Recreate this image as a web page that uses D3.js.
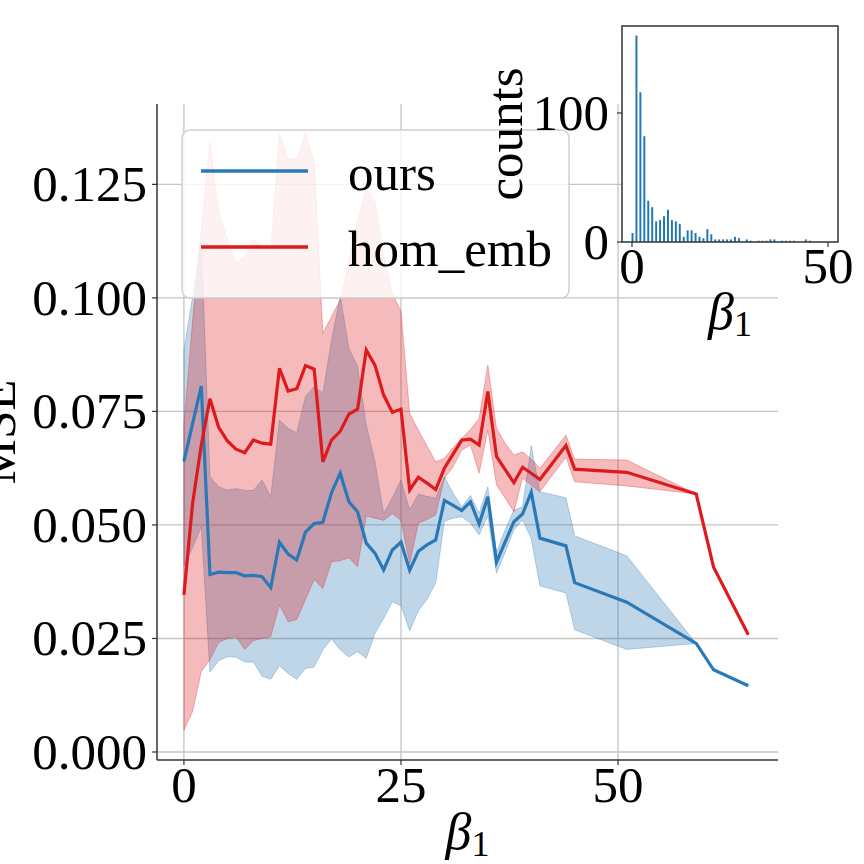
<!DOCTYPE html>
<html>
<head>
<meta charset="utf-8">
<script src="https://cdn.jsdelivr.net/npm/d3@7"></script>
<style>
  body { margin: 0; background: #fff; }
  svg text { font-family: "Liberation Serif", "Times New Roman", serif; fill: #000; }
</style>
</head>
<body>
<div id="chart"></div>
<script>
// beta_1 values along the x axis
const betaVals = [0,1,2,3,4,5,6,7,8,9,10,11,12,13,14,15,16,17,18,19,20,21,22,23,24,25,26,27,28,29,30,31,32,33,34,35,36,37,38,39,40,41,44,45,51,59,61,65];

// "ours" mean and band
const oursMean = [0.0640,0.0723,0.0806,0.0391,0.0396,0.0395,0.0395,0.0388,0.0389,0.0386,0.0362,0.0462,0.0436,0.0423,0.0484,0.0503,0.0506,0.0571,0.0614,0.0551,0.0529,0.0460,0.0438,0.0401,0.0445,0.0462,0.0400,0.0442,0.0456,0.0467,0.0554,0.0543,0.0532,0.0551,0.0502,0.0562,0.0418,0.0463,0.0507,0.0524,0.0572,0.0471,0.0454,0.0373,0.0330,0.0239,0.0181,0.0146];
const oursHi = [0.0885,0.1003,0.1130,0.0606,0.0584,0.0577,0.0580,0.0576,0.0576,0.0599,0.0562,0.0731,0.0713,0.0703,0.0783,0.0805,0.0790,0.0907,0.1005,0.0889,0.0849,0.0720,0.0640,0.0525,0.0560,0.0599,0.0533,0.0568,0.0563,0.0559,0.0606,0.0570,0.0540,0.0565,0.0526,0.0584,0.0440,0.0490,0.0533,0.0540,0.0674,0.0573,0.0560,0.0476,0.0432,0.0239,0.0181,0.0146];
const oursLo = [0.0410,0.0450,0.0496,0.0176,0.0201,0.0210,0.0209,0.0198,0.0198,0.0167,0.0160,0.0190,0.0173,0.0160,0.0184,0.0187,0.0225,0.0249,0.0225,0.0209,0.0221,0.0206,0.0261,0.0294,0.0331,0.0322,0.0267,0.0311,0.0336,0.0372,0.0508,0.0515,0.0518,0.0504,0.0478,0.0520,0.0394,0.0440,0.0489,0.0511,0.0470,0.0366,0.0350,0.0269,0.0226,0.0239,0.0181,0.0146];

// "hom_emb" mean and band
const homMean = [0.0346,0.0548,0.0676,0.0778,0.0715,0.0685,0.0667,0.0659,0.0687,0.0680,0.0678,0.0845,0.0795,0.0800,0.0851,0.0843,0.0639,0.0687,0.0706,0.0744,0.0755,0.0885,0.0852,0.0786,0.0748,0.0755,0.0577,0.0605,0.0592,0.0578,0.0625,0.0656,0.0687,0.0689,0.0676,0.0794,0.0651,0.0622,0.0593,0.0627,0.0614,0.0600,0.0675,0.0623,0.0616,0.0568,0.0407,0.0258];
const homHi = [0.0720,0.0950,0.1150,0.1343,0.1190,0.1128,0.1075,0.1091,0.1129,0.1113,0.1102,0.1361,0.1306,0.1306,0.1363,0.1300,0.0922,0.0959,0.0996,0.1084,0.1172,0.1239,0.1212,0.1091,0.1010,0.0970,0.0746,0.0709,0.0674,0.0639,0.0647,0.0670,0.0691,0.0710,0.0735,0.0852,0.0713,0.0680,0.0654,0.0661,0.0645,0.0625,0.0698,0.0645,0.0643,0.0568,0.0407,0.0258];
const homLo = [0.0048,0.0089,0.0177,0.0203,0.0241,0.0250,0.0254,0.0226,0.0245,0.0250,0.0254,0.0324,0.0287,0.0292,0.0336,0.0380,0.0360,0.0419,0.0421,0.0428,0.0408,0.0520,0.0515,0.0510,0.0525,0.0510,0.0415,0.0504,0.0512,0.0522,0.0603,0.0628,0.0665,0.0676,0.0614,0.0709,0.0588,0.0559,0.0529,0.0603,0.0588,0.0573,0.0649,0.0595,0.0586,0.0568,0.0407,0.0258];

// tick values
const xTicks = [0, 25, 50];
const yTicks = [0, 0.025, 0.05, 0.075, 0.1, 0.125];
const seriesNames = ["ours", "hom_emb"];

// inset histogram of beta_1 (one bar per unit bin)
const histCounts = [7,160,116,82,32,27,16,17,20,25,17,16,14,4,9,9,7,4,3,10,6,2,2,2,2,2,4,3,0,2,1,0,1,1,1,2,2,0,1,1,1,1,0,0,2,1];
const histFirstCenter = 0.13;
const histBinWidth = 1.005;
const histXTicks = [0, 50];
const histYTicks = [0, 100];

const W = 864, H = 864;
const blue = "#2a78b6", red = "#dd1a1e";
const gridColor = "#c4c4c4", spineColor = "#333";

const svg = d3.select("#chart").append("svg")
  .attr("width", W).attr("height", H);

// main axes box
const mL = 157, mR = 778, mT = 104, mB = 760;
const x = d3.scaleLinear().domain([-3.1, 68.42]).range([mL, mR]);
const y = d3.scaleLinear().domain([-0.00176, 0.14270]).range([mB, mT]);

const main = svg.append("g");

// grid
main.selectAll(".gx").data(xTicks).enter().append("line")
  .attr("x1", d => x(d)).attr("x2", d => x(d))
  .attr("y1", mT).attr("y2", mB)
  .attr("stroke", gridColor).attr("stroke-width", 1.3);
main.selectAll(".gy").data(yTicks).enter().append("line")
  .attr("x1", mL).attr("x2", mR)
  .attr("y1", d => y(d)).attr("y2", d => y(d))
  .attr("stroke", gridColor).attr("stroke-width", 1.3);

const pts = betaVals.map((b, i) => ({
  b: b, om: oursMean[i], ol: oursLo[i], oh: oursHi[i],
  hm: homMean[i], hl: homLo[i], hh: homHi[i]
}));

const band = (lo, hi) => d3.area().x(d => x(d.b)).y0(d => y(d[lo])).y1(d => y(d[hi]));
const line = key => d3.line().x(d => x(d.b)).y(d => y(d[key]));

// bands first, lines on top (like matplotlib zorder)
main.append("path").datum(pts).attr("d", band("ol", "oh"))
  .attr("fill", blue).attr("fill-opacity", 0.3)
  .attr("stroke", blue).attr("stroke-opacity", 0.3).attr("stroke-width", 1);
main.append("path").datum(pts).attr("d", band("hl", "hh"))
  .attr("fill", red).attr("fill-opacity", 0.3)
  .attr("stroke", red).attr("stroke-opacity", 0.3).attr("stroke-width", 1);
main.append("path").datum(pts).attr("d", line("om"))
  .attr("fill", "none").attr("stroke", blue).attr("stroke-width", 3.2);
main.append("path").datum(pts).attr("d", line("hm"))
  .attr("fill", "none").attr("stroke", red).attr("stroke-width", 3.2);

// spines + ticks
main.append("line").attr("x1", mL).attr("x2", mL).attr("y1", mT).attr("y2", mB)
  .attr("stroke", spineColor).attr("stroke-width", 1.5);
main.append("line").attr("x1", mL).attr("x2", mR).attr("y1", mB).attr("y2", mB)
  .attr("stroke", spineColor).attr("stroke-width", 1.5);

main.selectAll(".ty").data(yTicks).enter().append("line")
  .attr("x1", mL - 5).attr("x2", mL)
  .attr("y1", d => y(d)).attr("y2", d => y(d))
  .attr("stroke", spineColor).attr("stroke-width", 1.2);
main.selectAll(".tx").data(xTicks).enter().append("line")
  .attr("x1", d => x(d)).attr("x2", d => x(d))
  .attr("y1", mB).attr("y2", mB + 5)
  .attr("stroke", spineColor).attr("stroke-width", 1.2);

main.selectAll(".ly").data(yTicks).enter().append("text")
  .attr("x", 147).attr("y", d => y(d) + 17)
  .attr("text-anchor", "end").attr("font-size", 51)
  .text(d3.format(".3f"));
main.selectAll(".lx").data(xTicks).enter().append("text")
  .attr("x", d => x(d)).attr("y", 802)
  .attr("text-anchor", "middle").attr("font-size", 51)
  .text(d => d);

// axis labels
const xl = main.append("text").attr("x", (mL + mR) / 2).attr("y", 849)
  .attr("text-anchor", "middle").attr("font-size", 52);
xl.append("tspan").attr("font-style", "italic").text("β");
xl.append("tspan").attr("font-size", 36).attr("dy", 7).text("1");

main.append("text")
  .attr("transform", `translate(15,${(mT + mB) / 2}) rotate(-90)`)
  .attr("text-anchor", "middle").attr("font-size", 51)
  .text("MSE");

// legend
const leg = main.append("g");
leg.append("rect").attr("x", 182).attr("y", 130).attr("width", 387).attr("height", 168)
  .attr("rx", 8).attr("fill", "#fff").attr("fill-opacity", 0.8)
  .attr("stroke", "#cfcfcf").attr("stroke-width", 1.5);
const legColors = [blue, red];
seriesNames.forEach((name, i) => {
  const ly = 171 + i * 76;
  leg.append("line").attr("x1", 201).attr("x2", 308).attr("y1", ly).attr("y2", ly)
    .attr("stroke", legColors[i]).attr("stroke-width", 3.5);
  leg.append("text").attr("x", 348).attr("y", ly + 19)
    .attr("font-size", 51).text(name);
});

// inset histogram
const iL = 622, iR = 838, iT = 26, iB = 242;
const xi = d3.scaleLinear().domain([-2.55, 52.55]).range([iL, iR]);
const yi = d3.scaleLinear().domain([0, 167.4]).range([iB, iT]);

const inset = svg.append("g");
inset.append("rect").attr("x", iL).attr("y", iT).attr("width", iR - iL).attr("height", iB - iT)
  .attr("fill", "#fff");

const bars = histCounts.map((c, i) => ({ c: c, center: histFirstCenter + i * histBinWidth }));
inset.selectAll(".bar").data(bars.filter(d => d.c > 0)).enter().append("rect")
  .attr("x", d => xi(d.center - 0.25))
  .attr("width", d => xi(d.center + 0.25) - xi(d.center - 0.25))
  .attr("y", d => yi(d.c))
  .attr("height", d => yi(0) - yi(d.c))
  .attr("fill", "#1f77b4");

inset.append("rect").attr("x", iL).attr("y", iT).attr("width", iR - iL).attr("height", iB - iT)
  .attr("fill", "none").attr("stroke", spineColor).attr("stroke-width", 1.5);

inset.selectAll(".ity").data(histYTicks).enter().append("line")
  .attr("x1", iL - 5).attr("x2", iL)
  .attr("y1", d => yi(d)).attr("y2", d => yi(d))
  .attr("stroke", spineColor).attr("stroke-width", 1.2);
inset.selectAll(".itx").data(histXTicks).enter().append("line")
  .attr("x1", d => xi(d)).attr("x2", d => xi(d))
  .attr("y1", iB).attr("y2", iB + 5)
  .attr("stroke", spineColor).attr("stroke-width", 1.2);

inset.selectAll(".ily").data(histYTicks).enter().append("text")
  .attr("x", 609).attr("y", d => yi(d) + 17)
  .attr("text-anchor", "end").attr("font-size", 51)
  .text(d => d);
inset.selectAll(".ilx").data(histXTicks).enter().append("text")
  .attr("x", d => xi(d)).attr("y", 283)
  .attr("text-anchor", "middle").attr("font-size", 51)
  .text(d => d);

const ixl = inset.append("text").attr("x", (iL + iR) / 2).attr("y", 329)
  .attr("text-anchor", "middle").attr("font-size", 52);
ixl.append("tspan").attr("font-style", "italic").text("β");
ixl.append("tspan").attr("font-size", 36).attr("dy", 7).text("1");

inset.append("text")
  .attr("transform", `translate(522,${(iT + iB) / 2}) rotate(-90)`)
  .attr("text-anchor", "middle").attr("font-size", 51)
  .text("counts");
</script>
</body>
</html>
